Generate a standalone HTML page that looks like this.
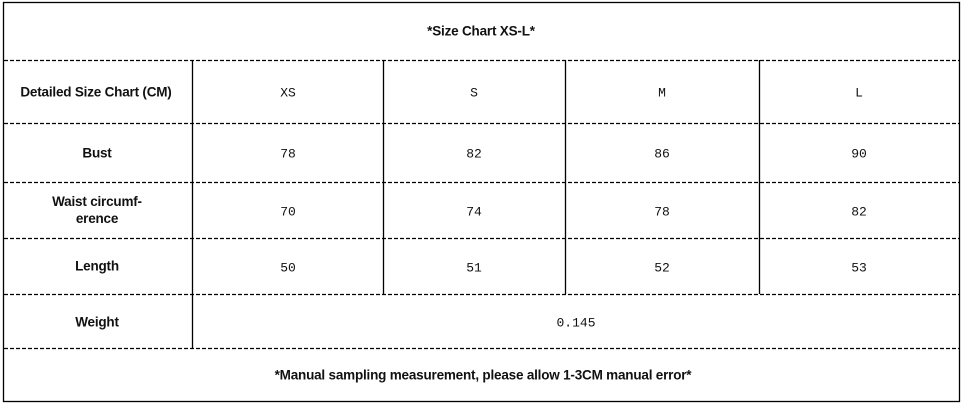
<!DOCTYPE html>
<html><head><meta charset="utf-8"><style>
body{margin:0;width:963px;height:407px;background:#fff;position:relative;overflow:hidden}
svg{position:absolute;left:0;top:0}
.t{position:absolute;transform:translate(-50%,-50%);white-space:nowrap;color:#111}
.b{font-family:"Liberation Sans",sans-serif;font-weight:bold;font-size:13.5px;letter-spacing:-0.2px}
.m{font-family:"Liberation Mono",monospace;font-size:13px}
</style></head><body>
<svg width="963" height="407">
<g stroke="#000" stroke-width="1.3" fill="none">
<rect x="3.5" y="2.5" width="956" height="399"/>
<line x1="192.5" y1="60" x2="192.5" y2="348"/>
<line x1="383.5" y1="60" x2="383.5" y2="294"/>
<line x1="565.5" y1="60" x2="565.5" y2="294"/>
<line x1="759.5" y1="60" x2="759.5" y2="294"/>
<g stroke-dasharray="4,2">
<line x1="4" y1="60.5" x2="959" y2="60.5"/>
<line x1="4" y1="123.5" x2="959" y2="123.5"/>
<line x1="4" y1="182.5" x2="959" y2="182.5"/>
<line x1="4" y1="238.5" x2="959" y2="238.5"/>
<line x1="4" y1="294.5" x2="959" y2="294.5"/>
<line x1="4" y1="348.5" x2="959" y2="348.5"/>
</g></g></svg>
<div class="t b" style="left:481px;top:31px">*Size Chart XS-L*</div>
<div class="t b" style="left:96px;top:92px">Detailed Size Chart (CM)</div>
<div class="t m" style="left:288px;top:93px">XS</div>
<div class="t m" style="left:474px;top:93px">S</div>
<div class="t m" style="left:662px;top:93px">M</div>
<div class="t m" style="left:859px;top:93px">L</div>
<div class="t b" style="left:97px;top:153px">Bust</div>
<div class="t m" style="left:288px;top:154px">78</div>
<div class="t m" style="left:474px;top:154px">82</div>
<div class="t m" style="left:662px;top:154px">86</div>
<div class="t m" style="left:859px;top:154px">90</div>
<div class="t b" style="left:97px;top:210px;text-align:center;line-height:17px">Waist circumf-<br>erence</div>
<div class="t m" style="left:288px;top:212px">70</div>
<div class="t m" style="left:474px;top:212px">74</div>
<div class="t m" style="left:662px;top:212px">78</div>
<div class="t m" style="left:859px;top:212px">82</div>
<div class="t b" style="left:97px;top:266px">Length</div>
<div class="t m" style="left:288px;top:268px">50</div>
<div class="t m" style="left:474px;top:268px">51</div>
<div class="t m" style="left:662px;top:268px">52</div>
<div class="t m" style="left:859px;top:268px">53</div>
<div class="t b" style="left:97px;top:322px">Weight</div>
<div class="t m" style="left:576px;top:323px">0.145</div>
<div class="t b" style="left:483px;top:375px">*Manual sampling measurement, please allow 1-3CM manual error*</div>
</body></html>
